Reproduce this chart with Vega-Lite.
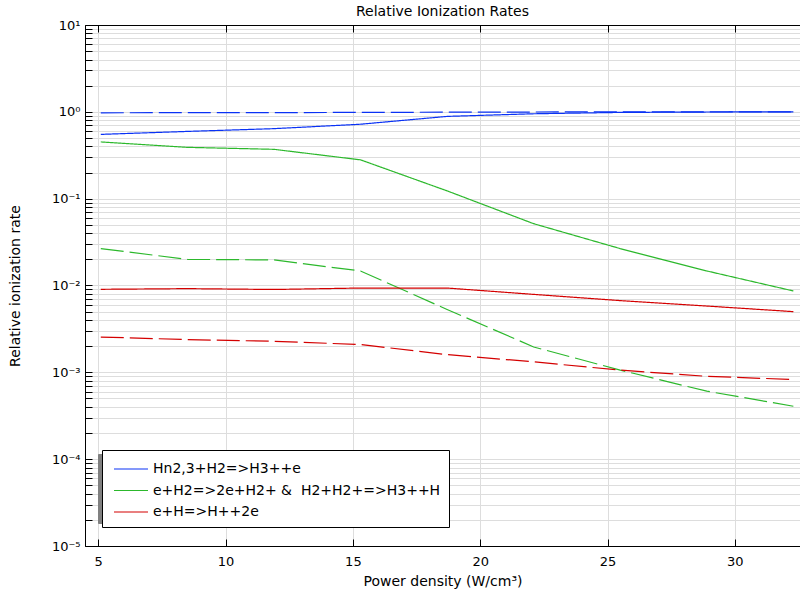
{
  "$schema": "https://vega.github.io/schema/vega-lite/v6.json",
  "width": 715,
  "height": 521,
  "autosize": "none",
  "padding": {"left": 85, "top": 25, "right": 0, "bottom": 45},
  "title": {"text": "Relative Ionization Rates", "fontSize": 14, "fontWeight": "normal", "font": "DejaVu Sans", "color": "black", "offset": 0, "anchor": "middle"},
  "config": {
    "font": "DejaVu Sans",
    "view": {"stroke": "black", "strokeWidth": 1},
    "axis": {"domainColor": "black", "tickColor": "black", "labelColor": "black", "titleColor": "black", "gridColor": "#dddddd", "labelFont": "DejaVu Sans", "titleFont": "DejaVu Sans"}
  },
  "data": {"values": [
    {"x": 5.1, "y": 0.975, "series": "Hn2,3+H2=>H3++e", "style": "dashed"},
    {"x": 8.5, "y": 0.978, "series": "Hn2,3+H2=>H3++e", "style": "dashed"},
    {"x": 11.9, "y": 0.98, "series": "Hn2,3+H2=>H3++e", "style": "dashed"},
    {"x": 15.3, "y": 0.985, "series": "Hn2,3+H2=>H3++e", "style": "dashed"},
    {"x": 18.7, "y": 0.99, "series": "Hn2,3+H2=>H3++e", "style": "dashed"},
    {"x": 22.1, "y": 0.995, "series": "Hn2,3+H2=>H3++e", "style": "dashed"},
    {"x": 25.5, "y": 1.0, "series": "Hn2,3+H2=>H3++e", "style": "dashed"},
    {"x": 28.9, "y": 1.0, "series": "Hn2,3+H2=>H3++e", "style": "dashed"},
    {"x": 32.3, "y": 1.0, "series": "Hn2,3+H2=>H3++e", "style": "dashed"},
    {"x": 5.1, "y": 0.55, "series": "Hn2,3+H2=>H3++e", "style": "solid"},
    {"x": 8.5, "y": 0.595, "series": "Hn2,3+H2=>H3++e", "style": "solid"},
    {"x": 11.9, "y": 0.64, "series": "Hn2,3+H2=>H3++e", "style": "solid"},
    {"x": 15.3, "y": 0.72, "series": "Hn2,3+H2=>H3++e", "style": "solid"},
    {"x": 18.7, "y": 0.886, "series": "Hn2,3+H2=>H3++e", "style": "solid"},
    {"x": 22.1, "y": 0.95, "series": "Hn2,3+H2=>H3++e", "style": "solid"},
    {"x": 25.5, "y": 0.985, "series": "Hn2,3+H2=>H3++e", "style": "solid"},
    {"x": 28.9, "y": 0.995, "series": "Hn2,3+H2=>H3++e", "style": "solid"},
    {"x": 32.3, "y": 1.0, "series": "Hn2,3+H2=>H3++e", "style": "solid"},
    {"x": 5.1, "y": 0.45, "series": "e+H2=>2e+H2+ &\u00a0 H2+H2+=>H3++H", "style": "solid"},
    {"x": 8.5, "y": 0.39, "series": "e+H2=>2e+H2+ &\u00a0 H2+H2+=>H3++H", "style": "solid"},
    {"x": 11.9, "y": 0.37, "series": "e+H2=>2e+H2+ &\u00a0 H2+H2+=>H3++H", "style": "solid"},
    {"x": 15.3, "y": 0.28, "series": "e+H2=>2e+H2+ &\u00a0 H2+H2+=>H3++H", "style": "solid"},
    {"x": 18.7, "y": 0.123, "series": "e+H2=>2e+H2+ &\u00a0 H2+H2+=>H3++H", "style": "solid"},
    {"x": 22.1, "y": 0.0515, "series": "e+H2=>2e+H2+ &\u00a0 H2+H2+=>H3++H", "style": "solid"},
    {"x": 25.5, "y": 0.0266, "series": "e+H2=>2e+H2+ &\u00a0 H2+H2+=>H3++H", "style": "solid"},
    {"x": 28.9, "y": 0.0147, "series": "e+H2=>2e+H2+ &\u00a0 H2+H2+=>H3++H", "style": "solid"},
    {"x": 32.3, "y": 0.00865, "series": "e+H2=>2e+H2+ &\u00a0 H2+H2+=>H3++H", "style": "solid"},
    {"x": 5.1, "y": 0.0266, "series": "e+H2=>2e+H2+ &\u00a0 H2+H2+=>H3++H", "style": "dashed"},
    {"x": 8.5, "y": 0.02, "series": "e+H2=>2e+H2+ &\u00a0 H2+H2+=>H3++H", "style": "dashed"},
    {"x": 11.9, "y": 0.0197, "series": "e+H2=>2e+H2+ &\u00a0 H2+H2+=>H3++H", "style": "dashed"},
    {"x": 15.3, "y": 0.0147, "series": "e+H2=>2e+H2+ &\u00a0 H2+H2+=>H3++H", "style": "dashed"},
    {"x": 18.7, "y": 0.0053, "series": "e+H2=>2e+H2+ &\u00a0 H2+H2+=>H3++H", "style": "dashed"},
    {"x": 22.1, "y": 0.00196, "series": "e+H2=>2e+H2+ &\u00a0 H2+H2+=>H3++H", "style": "dashed"},
    {"x": 25.5, "y": 0.00106, "series": "e+H2=>2e+H2+ &\u00a0 H2+H2+=>H3++H", "style": "dashed"},
    {"x": 28.9, "y": 0.000607, "series": "e+H2=>2e+H2+ &\u00a0 H2+H2+=>H3++H", "style": "dashed"},
    {"x": 32.3, "y": 0.000407, "series": "e+H2=>2e+H2+ &\u00a0 H2+H2+=>H3++H", "style": "dashed"},
    {"x": 5.1, "y": 0.00904, "series": "e+H=>H++2e", "style": "solid"},
    {"x": 8.5, "y": 0.0092, "series": "e+H=>H++2e", "style": "solid"},
    {"x": 11.9, "y": 0.009, "series": "e+H=>H++2e", "style": "solid"},
    {"x": 15.3, "y": 0.00935, "series": "e+H=>H++2e", "style": "solid"},
    {"x": 18.7, "y": 0.00935, "series": "e+H=>H++2e", "style": "solid"},
    {"x": 22.1, "y": 0.0079, "series": "e+H=>H++2e", "style": "solid"},
    {"x": 25.5, "y": 0.0067, "series": "e+H=>H++2e", "style": "solid"},
    {"x": 28.9, "y": 0.0058, "series": "e+H=>H++2e", "style": "solid"},
    {"x": 32.3, "y": 0.005, "series": "e+H=>H++2e", "style": "solid"},
    {"x": 5.1, "y": 0.00255, "series": "e+H=>H++2e", "style": "dashed"},
    {"x": 8.5, "y": 0.00238, "series": "e+H=>H++2e", "style": "dashed"},
    {"x": 11.9, "y": 0.00228, "series": "e+H=>H++2e", "style": "dashed"},
    {"x": 15.3, "y": 0.00209, "series": "e+H=>H++2e", "style": "dashed"},
    {"x": 18.7, "y": 0.0016, "series": "e+H=>H++2e", "style": "dashed"},
    {"x": 22.1, "y": 0.00132, "series": "e+H=>H++2e", "style": "dashed"},
    {"x": 25.5, "y": 0.00106, "series": "e+H=>H++2e", "style": "dashed"},
    {"x": 28.9, "y": 0.0009, "series": "e+H=>H++2e", "style": "dashed"},
    {"x": 32.3, "y": 0.000826, "series": "e+H=>H++2e", "style": "dashed"}
  ]},
  "resolve": {"axis": {"x": "independent"}},
  "layer": [
    {
      "mark": {"type": "line", "strokeWidth": 1.2, "clip": true},
      "encoding": {
        "x": {
          "field": "x", "type": "quantitative",
          "scale": {"domain": [4.48, 32.56], "nice": false, "zero": false},
          "axis": {"orient": "bottom", "values": [5, 10, 15, 20, 25, 30], "title": "Power density (W/cm³)", "titleFontSize": 14, "titleFontWeight": "normal", "titlePadding": 6, "labelFontSize": 13, "labelPadding": 16, "tickSize": -7, "grid": true, "labelFlush": false}
        },
        "y": {
          "field": "y", "type": "quantitative",
          "scale": {"type": "log", "domain": [0.00001, 10], "nice": false},
          "axis": {
            "values": [0.00001,0.00002,0.00003,0.00004,0.00005,0.00006,0.00007,0.00008,0.00009,0.0001,0.0002,0.0003,0.0004,0.0005,0.0006,0.0007,0.0008,0.0009,0.001,0.002,0.003,0.004,0.005,0.006,0.007,0.008,0.009,0.01,0.02,0.03,0.04,0.05,0.06,0.07,0.08,0.09,0.1,0.2,0.3,0.4,0.5,0.6,0.7,0.8,0.9,1,2,3,4,5,6,7,8,9,10],
            "labelExpr": "abs(log(datum.value)/LN10 - round(log(datum.value)/LN10)) < 0.000001 ? '10' + replace(replace(replace(replace(replace(replace(replace(''+round(log(datum.value)/LN10), '-', '⁻'), '0', '⁰'), '1', '¹'), '2', '²'), '3', '³'), '4', '⁴'), '5', '⁵') : ''",
            "labelOverlap": false, "labelFontSize": 13, "labelPadding": 12, "tickSize": -7, "grid": true,
            "title": "Relative ionization rate", "titleFontSize": 14, "titleFontWeight": "normal", "titlePadding": 29
          }
        },
        "color": {
          "field": "series", "type": "nominal",
          "scale": {"domain": ["Hn2,3+H2=>H3++e", "e+H2=>2e+H2+ &\u00a0 H2+H2+=>H3++H", "e+H=>H++2e"], "range": ["#0a32f5", "#2cb82c", "#d40000"]},
          "legend": {"orient": "none", "legendX": 17, "legendY": 425, "zindex": 2, "title": null, "strokeColor": "black", "fillColor": "white", "padding": 8, "symbolType": "M-0.7,0H2.7", "symbolSize": 400, "symbolStrokeWidth": 1.2, "labelFontSize": 14, "labelOffset": 21, "rowPadding": 3.5, "labelLimit": 400, "labelColor": "black", "labelFont": "DejaVu Sans"}
        },
        "strokeDash": {
          "field": "style", "type": "nominal",
          "scale": {"domain": ["solid", "dashed"], "range": [[1, 0], [23, 6]]},
          "legend": null
        }
      }
    },
    {
      "mark": {"type": "line", "clip": true},
      "encoding": {
        "x": {"field": "x", "type": "quantitative", "axis": null},
        "y": {"field": "y", "type": "quantitative"},
        "detail": {"field": "style"},
        "opacity": {
          "field": "series", "type": "nominal",
          "scale": {"domain": ["e+H=>H++2e", "Hn2,3+H2=>H3++e", "e+H2=>2e+H2+ &\u00a0 H2+H2+=>H3++H"], "range": [0, 0, 0]},
          "legend": {"orient": "none", "legendX": 13, "legendY": 429, "zindex": 0, "title": null, "strokeColor": "#808080", "fillColor": "#808080", "padding": 8, "symbolType": "M-0.7,-1H32.1V1H-0.7Z", "symbolSize": 400, "symbolStrokeWidth": 1, "labelExpr": "''", "labelFontSize": 14, "labelOffset": 21, "rowPadding": 11.5, "labelLimit": 400}
        }
      }
    },
    {
      "mark": {"type": "point", "opacity": 0},
      "encoding": {
        "x": {
          "field": "x", "type": "quantitative",
          "axis": {"orient": "top", "values": [5, 10, 15, 20, 25, 30], "labels": false, "title": null, "tickSize": -7, "grid": false, "minExtent": 0, "maxExtent": 0}
        }
      }
    }
  ]
}
